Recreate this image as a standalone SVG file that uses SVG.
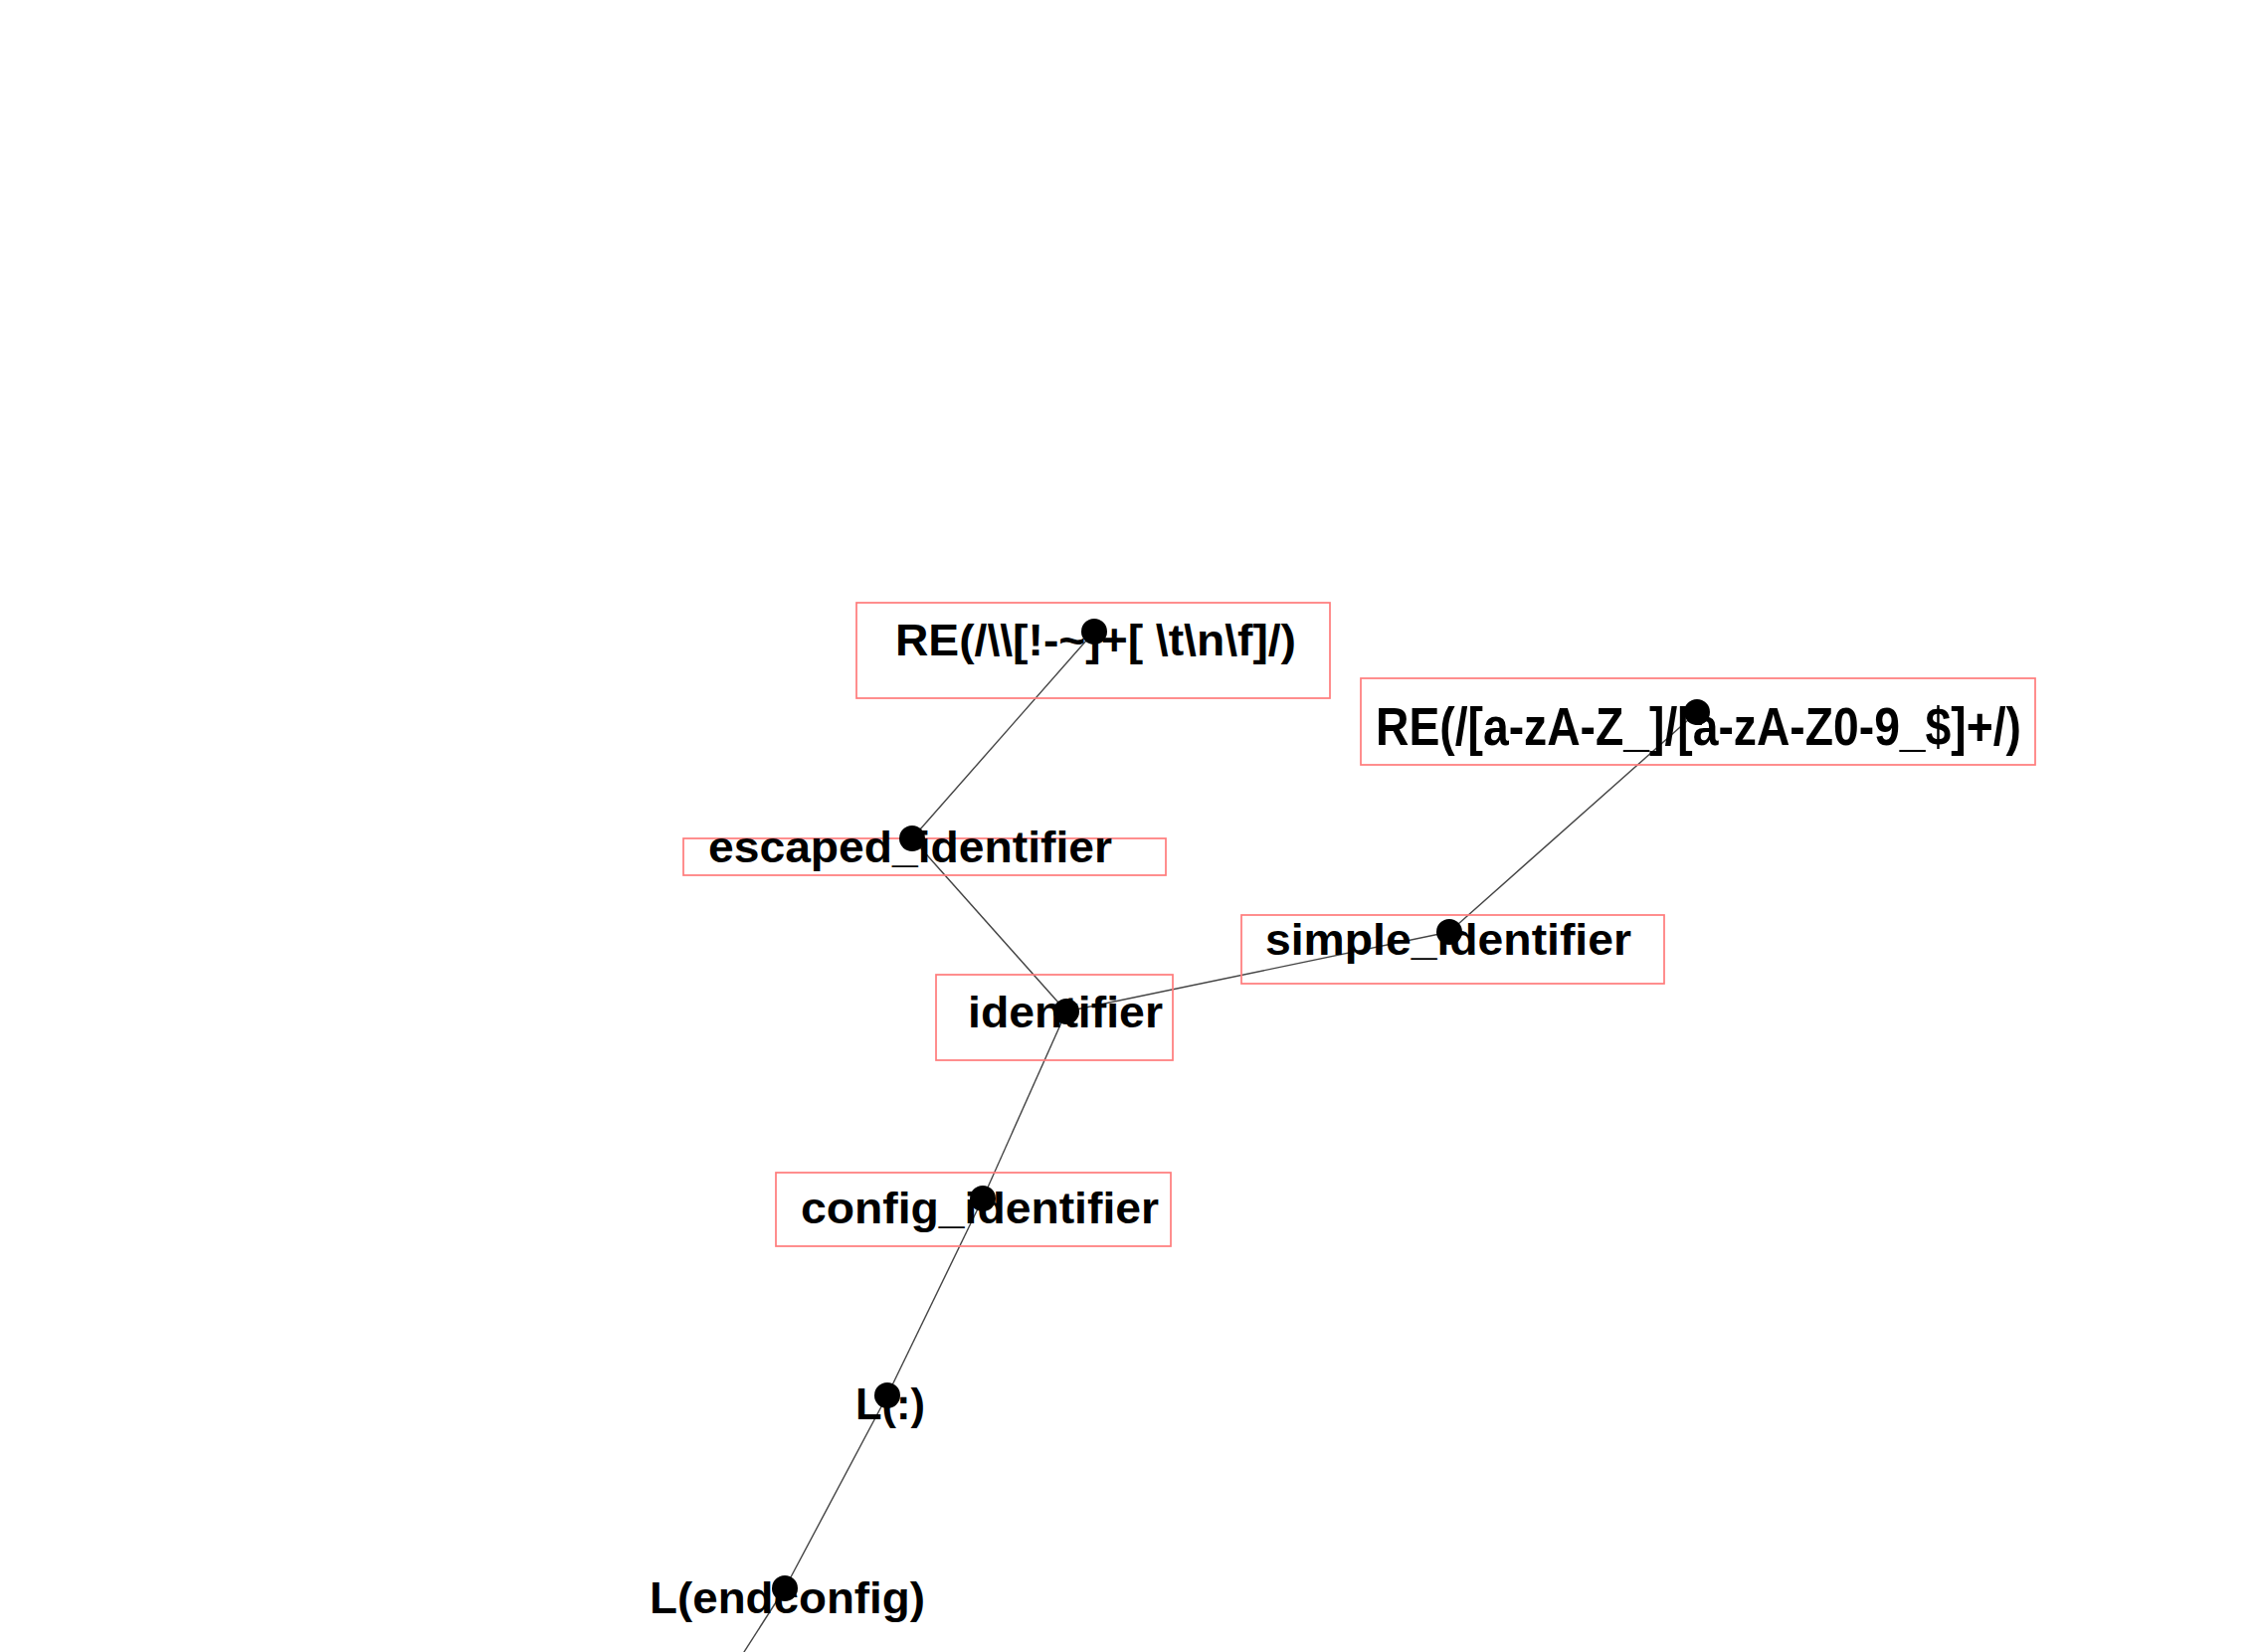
<svg xmlns="http://www.w3.org/2000/svg" width="2274" height="1661" viewBox="0 0 2274 1661">
<style>
.box{fill:none;stroke:#ff7b7b;stroke-width:1.7}
.lbl{font-family:"Liberation Sans",Arial,Helvetica,sans-serif;font-weight:bold;font-size:45px;fill:#000}
.big{font-size:53px}
.dot{fill:#000}
.edge{stroke:#444;stroke-width:1.4;fill:none}
</style>
<rect width="2274" height="1661" fill="#fff"/>
<g id="connectors">
<line class="edge" x1="1100" y1="635" x2="917" y2="843"/>
<line class="edge" x1="917" y1="843" x2="1072" y2="1017"/>
<line class="edge" x1="1072" y1="1017" x2="1457" y2="937"/>
<line class="edge" x1="1457" y1="937" x2="1706" y2="716"/>
<line class="edge" x1="1072" y1="1017" x2="988" y2="1205"/>
<line class="edge" x1="988" y1="1205" x2="892" y2="1403"/>
<line class="edge" x1="892" y1="1403" x2="789" y2="1597"/>
<line class="edge" x1="789" y1="1597" x2="723" y2="1700"/>
</g>
<g id="node-re-escaped">
<rect class="box" x="861" y="606" width="476" height="96"/>
<text class="lbl" x="900" y="659" textLength="403" lengthAdjust="spacingAndGlyphs">RE(/\\[!-~]+[ \t\n\f]/)</text>
<circle class="dot" cx="1100" cy="635" r="13"/>
</g>
<g id="node-re-simple">
<rect class="box" x="1368" y="682" width="678" height="87"/>
<text class="lbl big" x="1383" y="749" textLength="649" lengthAdjust="spacingAndGlyphs">RE(/[a-zA-Z_]/[a-zA-Z0-9_$]+/)</text>
<circle class="dot" cx="1706" cy="716" r="13"/>
</g>
<g id="node-escaped-identifier">
<rect class="box" x="687" y="843" width="485" height="37"/>
<text class="lbl" x="712" y="867" textLength="406" lengthAdjust="spacingAndGlyphs">escaped_identifier</text>
<circle class="dot" cx="917" cy="843" r="13"/>
</g>
<g id="node-simple-identifier">
<rect class="box" x="1248" y="920" width="425" height="69"/>
<text class="lbl" x="1272" y="960" textLength="368" lengthAdjust="spacingAndGlyphs">simple_identifier</text>
<circle class="dot" cx="1457" cy="937" r="13"/>
</g>
<g id="node-identifier">
<rect class="box" x="941" y="980" width="238" height="86"/>
<text class="lbl" x="973" y="1033" textLength="196" lengthAdjust="spacingAndGlyphs">identifier</text>
<circle class="dot" cx="1072" cy="1017" r="13"/>
</g>
<g id="node-config-identifier">
<rect class="box" x="780" y="1179" width="397" height="74"/>
<text class="lbl" x="805" y="1230" textLength="360" lengthAdjust="spacingAndGlyphs">config_identifier</text>
<circle class="dot" cx="988" cy="1205" r="13"/>
</g>
<g id="node-colon">
<text class="lbl" x="860" y="1427" textLength="70" lengthAdjust="spacingAndGlyphs">L(:)</text>
<circle class="dot" cx="892" cy="1403" r="13"/>
</g>
<g id="node-endconfig">
<text class="lbl" x="653" y="1622" textLength="277" lengthAdjust="spacingAndGlyphs">L(endconfig)</text>
<circle class="dot" cx="789" cy="1597" r="13"/>
</g>
</svg>
